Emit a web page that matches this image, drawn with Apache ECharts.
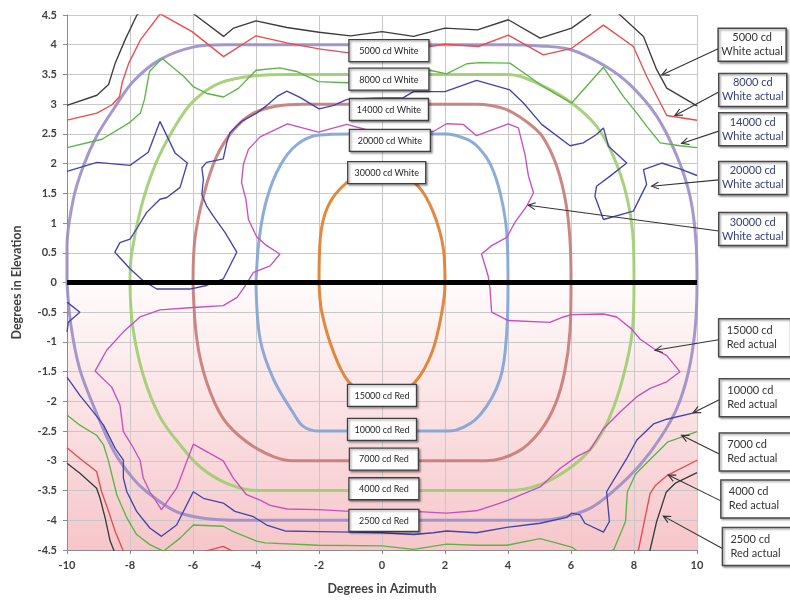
<!DOCTYPE html>
<html><head><meta charset="utf-8">
<script src="https://cdn.jsdelivr.net/npm/echarts@6/dist/echarts.min.js"></script>
<style>html,body{margin:0;padding:0;background:#fff}#c{width:790px;height:600px}</style>
</head><body><div id="c"></div>
<script>
// ---------- DATA ----------
const xMin = -10, xMax = 10, xStep = 2;
const yMin = -4.5, yMax = 4.5, yStep = 0.5;
const xTitle = 'Degrees in Azimuth';
const yTitle = 'Degrees in Elevation';

// specification contours (smooth)
const spec5000W_2500R = [[-10,0],[-10,0.6],[-9.8,1.4],[-9.48,1.96],[-9.06,2.46],[-8.53,2.91],[-7.9,3.38],[-7.05,3.75],[-6,3.96],[-5,4],[-4,4],[-2,4],[0,4],[2,4],[4,4],[5,3.98],[5.97,3.92],[7.03,3.66],[7.87,3.33],[8.72,2.8],[9.36,2.13],[9.78,1.45],[9.97,0.67],[10,0],[9.94,-0.78],[9.73,-1.5],[9.36,-2.12],[8.83,-2.62],[8.19,-3.07],[7.45,-3.46],[6.6,-3.8],[5.65,-3.96],[5,-4],[4,-4],[2,-4],[0,-4],[-2,-4],[-4,-4],[-4.5,-4],[-5.6,-3.97],[-6.55,-3.85],[-7.47,-3.52],[-7.9,-3.3],[-8.5,-2.85],[-9.1,-2.15],[-9.6,-1.45],[-9.88,-0.7],[-10,0]];
const spec8000W_4000R = [[-8,0],[-7.95,0.48],[-7.65,1.26],[-7.2,1.98],[-6.6,2.6],[-5.99,3.05],[-5.14,3.36],[-4,3.48],[-3,3.5],[-2,3.5],[0,3.5],[2,3.5],[4,3.5],[5.02,3.33],[6.02,3.02],[6.81,2.63],[7.34,2.13],[7.77,1.45],[7.98,0.67],[8,0],[7.95,-0.8],[7.65,-1.6],[7.2,-2.3],[6.7,-2.75],[6.02,-3.1],[5.02,-3.4],[4,-3.5],[2,-3.5],[0,-3.5],[-2,-3.5],[-4,-3.5],[-4.93,-3.38],[-5.78,-3.1],[-6.41,-2.73],[-7.05,-2.26],[-7.58,-1.56],[-7.92,-0.72],[-8,0]];
const spec14000W_7000R = [[-6,0],[-5.94,0.73],[-5.67,1.45],[-5.25,2.12],[-4.71,2.57],[-4.08,2.85],[-3.33,2.97],[-2.5,3],[-1,3],[0,3],[1,3],[2,3],[3,3],[3.9,2.92],[4.6,2.7],[5.1,2.45],[5.55,1.95],[5.85,1.3],[5.98,0.6],[6,0],[5.97,-0.8],[5.8,-1.5],[5.5,-2.05],[5.02,-2.5],[4.3,-2.85],[3.3,-3],[2,-3],[0,-3],[-2,-3],[-2.81,-3],[-3.45,-2.93],[-4.3,-2.68],[-5.04,-2.29],[-5.57,-1.67],[-5.88,-0.95],[-6,0]];
const spec20000W_10000R = [[-4,0],[-3.9,0.73],[-3.66,1.4],[-3.24,1.96],[-2.7,2.32],[-2,2.48],[-1,2.5],[0,2.5],[1,2.5],[2,2.5],[2.69,2.41],[3.1,2.25],[3.45,1.98],[3.75,1.51],[3.96,0.84],[4,0],[3.96,-0.83],[3.75,-1.62],[3.11,-2.23],[2.37,-2.48],[2,-2.5],[1,-2.5],[0,-2.5],[-1,-2.5],[-2,-2.5],[-2.5,-2.42],[-2.81,-2.2],[-3.45,-1.62],[-3.87,-0.95],[-4,0]];
const spec30000W_15000R = [[-2,0],[-1.96,0.74],[-1.71,1.29],[-1.12,1.68],[-0.5,1.83],[0,1.85],[0.5,1.83],[1.15,1.62],[1.63,1.18],[1.95,0.56],[2,0],[1.9,-0.5],[1.59,-1.17],[1.06,-1.67],[0.5,-1.83],[0,-1.85],[-0.5,-1.83],[-1.06,-1.67],[-1.54,-1.17],[-1.91,-0.5],[-2,0]];

// measured ("actual") contours
const act5000White = [[-10,2.98],[-9.05,3.15],[-8.68,3.33],[-8.47,3.69],[-8.15,4.09],[-7.78,4.5],[-7,4.9],[-5.93,4.5],[-5.03,4.14],[-4.71,4.28],[-4,4.4],[-3.02,4.29],[-2,4.21],[-1,4.15],[0,4.22],[1,4.14],[2,4.28],[3.03,4.25],[4.01,4.42],[5.02,4.11],[6.02,4.28],[6.6,4.5],[7,4.75],[7.56,4.5],[8.3,4.14],[8.72,3.58],[9.04,3.27],[10,2.97]];
const act8000White = [[-10,2.73],[-9.05,2.85],[-8.57,2.99],[-8.33,3.13],[-8.25,3.36],[-8.04,3.69],[-7.67,4.08],[-7.04,4.52],[-6.03,4.22],[-5.03,3.8],[-4,4.15],[-3.02,4.03],[-2,3.93],[-1,3.86],[0,3.9],[1,3.94],[1.52,3.97],[2,4.01],[3.06,3.97],[4.01,4.16],[5.12,3.83],[6.02,3.94],[7.03,4.33],[7.98,3.97],[8.4,3.47],[9.04,2.81],[10,2.73]];
const act14000White = [[-10,2.27],[-8.89,2.41],[-8.04,2.68],[-7.67,2.85],[-7.54,3.08],[-7.38,3.55],[-6.98,3.77],[-6.3,3.47],[-5.98,3.29],[-5.56,3.18],[-5.03,3.12],[-4.55,3.27],[-4,3.57],[-3.24,3.61],[-2.71,3.55],[-2.02,3.38],[-1.12,3.36],[0,3.42],[1,3.5],[1.52,3.57],[2.05,3.51],[2.69,3.68],[3.1,3.7],[4.06,3.69],[4.6,3.49],[5.02,3.33],[5.55,3.16],[6.02,3.02],[7.03,3.62],[7.34,3.38],[7.66,3.13],[8.09,2.85],[8.4,2.63],[8.83,2.35],[9.46,2.3],[10,2.27]];
const act20000White = [[-10,1.87],[-9.05,2.02],[-8,1.97],[-7.42,2.19],[-7.05,2.71],[-6.57,2.18],[-6.18,2.01],[-6.41,1.6],[-6.83,1.43],[-7.05,1.4],[-7.47,1.18],[-7.79,0.9],[-8,0.73],[-8.32,0.67],[-8.48,0.51],[-8,0.23],[-7.58,0.03],[-7.15,-0.11],[-6.1,-0.11],[-5.57,-0.05],[-5.04,0.06],[-4.61,0.51],[-4.98,0.84],[-5.36,1.12],[-5.57,1.29],[-5.72,1.48],[-5.67,1.73],[-5.72,1.93],[-5.57,2.02],[-5.04,2.08],[-4.93,2.35],[-4.83,2.52],[-4.46,2.71],[-3.98,2.85],[-3.65,2.98],[-3.33,3.13],[-3.02,3.22],[-2.59,3.11],[-2,2.92],[-1.53,2.98],[-1.11,3.08],[-0.3,3.1],[0.68,3.11],[1,3.21],[2,3.21],[3,3.4],[4.06,3.24],[4.49,3.02],[5.07,2.66],[5.97,2.3],[6.39,2.35],[6.81,2.49],[7.03,2.6],[7.19,2.29],[7.77,2.01],[7.24,1.79],[6.81,1.62],[6.76,1.45],[7.03,1.06],[7.98,1.2],[8.4,1.65],[8.3,1.9],[8.88,2.01],[9.46,1.91],[10,1.8]];
const act20000WhiteEdge = [[-10,-0.33],[-9.59,-0.5],[-9.96,-0.67],[-10,-0.83]];
// one closed loop: upper part = 30000 cd White actual, lower part = 15000 cd Red actual
const act30000W_15000R = [[-4.08,0.17],[-3.55,0.28],[-3.24,0.48],[-3.66,0.62],[-3.98,0.77],[-4.24,1.06],[-4.32,1.4],[-4.46,1.68],[-4.4,1.99],[-4.24,2.24],[-3.87,2.45],[-3,2.67],[-2.02,2.53],[-1.12,2.66],[-0.49,2.57],[0.5,2.55],[1,2.52],[1.63,2.54],[2.05,2.67],[2.58,2.66],[3,2.47],[4.01,2.67],[4.33,2.6],[4.54,2.15],[4.65,1.79],[4.81,1.51],[4.6,1.29],[4.22,1.01],[3.96,0.76],[3.48,0.62],[3.16,0.48],[3.37,0.11],[3.43,-0.11],[3.48,-0.5],[4.01,-0.64],[5.33,-0.67],[5.76,-0.58],[6.02,-0.54],[7.03,-0.53],[7.45,-0.58],[7.92,-0.78],[8.19,-0.95],[8.62,-1.11],[9.04,-1.23],[9.46,-1.5],[9.04,-1.67],[8.51,-1.78],[8.09,-1.92],[7.56,-2.18],[7.03,-2.46],[6.6,-2.82],[6.18,-2.93],[5.65,-3.13],[5.02,-3.44],[4.01,-3.66],[3.75,-3.71],[3,-3.84],[2.05,-3.88],[1,-3.85],[0,-3.86],[-1,-3.85],[-2.02,-3.82],[-3.02,-3.81],[-3.55,-3.75],[-3.87,-3.66],[-4.3,-3.57],[-4.72,-3.29],[-5.04,-3],[-5.99,-2.72],[-6.52,-3.46],[-7,-3.82],[-7.37,-3.52],[-7.58,-3.29],[-7.68,-2.99],[-7.95,-2.73],[-8.21,-2.51],[-8.32,-2.06],[-8.58,-1.76],[-9.11,-1.49],[-8.74,-1.14],[-8.21,-0.83],[-7.68,-0.58],[-7.05,-0.46],[-5.99,-0.42],[-5.04,-0.39],[-4.6,-0.25],[-4.35,-0.06],[-4.08,0.17]];
const act10000Red = [[-10,-1.59],[-9.59,-1.9],[-9.16,-2.18],[-8.84,-2.4],[-8.47,-2.79],[-8.21,-2.99],[-8.21,-3.29],[-8.1,-3.52],[-7.79,-3.85],[-7.37,-4.13],[-7,-4.27],[-6.52,-4.08],[-5.99,-3.52],[-5.67,-3.63],[-5.04,-3.71],[-4.67,-3.85],[-4.08,-3.94],[-3.66,-4.08],[-3.08,-4.18],[-2.02,-4.19],[-1,-4.2],[0,-4.21],[1,-4.24],[1.63,-4.21],[2.05,-4.18],[3,-4.21],[3.96,-4.12],[5.02,-4.05],[5.87,-3.95],[6.02,-3.88],[6.29,-3.91],[6.44,-4.05],[7.03,-4.2],[7.22,-4.02],[7.13,-3.52],[7.77,-2.96],[8.09,-2.65],[8.62,-2.38],[9.04,-2.3],[10,-2.18]];
const act7000Red = [[-10,-2.23],[-9.59,-2.4],[-9.06,-2.57],[-8.84,-2.73],[-8.68,-3.01],[-8.42,-3.57],[-8.1,-3.96],[-7.79,-4.24],[-7.37,-4.41],[-6.94,-4.52],[-6.41,-4.3],[-5.99,-4.08],[-5.04,-4.1],[-4.72,-4.19],[-3.98,-4.35],[-3.71,-4.38],[-2.02,-4.42],[0,-4.43],[1,-4.49],[2.05,-4.4],[3,-4.42],[3.96,-4.42],[5.02,-4.31],[6.02,-4.45],[6.7,-4.7],[7.36,-4.49],[7.73,-4.02],[7.79,-3.52],[8.05,-3.22],[8.6,-2.93],[9.08,-2.68],[10,-2.51]];
const act4000Red = [[-10,-2.78],[-9.59,-2.96],[-9.06,-3.18],[-8.9,-3.52],[-8.68,-3.85],[-8.47,-4.19],[-8.21,-4.52],[-7,-4.8],[-5.6,-4.52],[-5.04,-4.44],[-4.75,-4.52],[0,-4.8],[7.6,-4.8],[8.14,-4.5],[8.51,-3.55],[8.67,-3.42],[9.07,-3.24],[10,-2.99]];
const act2500Red = [[-10,-3.04],[-9.59,-3.21],[-9.06,-3.46],[-8.95,-3.63],[-8.79,-3.96],[-8.63,-4.35],[-8.5,-4.52],[-8,-4.9],[8,-4.9],[8.51,-4.5],[8.72,-4.02],[9.02,-3.53],[9.3,-3.38],[10,-3.2]];
const zeroLine = [[-10,0],[10,0]];

// ---------- LABELS ----------
const specLabels = ['5000 cd White','8000 cd White','14000 cd White','20000 cd White','30000 cd White','15000 cd Red','10000 cd Red','7000 cd Red','4000 cd Red','2500 cd Red'];
const actualLabels = [['5000 cd','White actual'],['8000 cd','White actual'],['14000 cd','White actual'],['20000 cd','White actual'],['30000 cd','White actual'],['15000 cd','Red actual'],['10000 cd','Red actual'],['7000 cd','Red actual'],['4000 cd','Red actual'],['2500 cd','Red actual']];

// ---------- LAYOUT (annotation placement, in axis units) ----------
const specLabelAt = [[0.22,3.9],[0.22,3.42],[0.22,2.91],[0.25,2.39],[0.15,1.85],[0,-1.9],[0,-2.47],[0.06,-2.97],[0.06,-3.47],[0.06,-4.0]];
const specLabelW = [80,80,79,81,78,69,69,69,70,70];
const actualBoxAt = [[11.75,4.0],[11.77,3.24],[11.77,2.58],[11.77,1.76],[11.77,0.9],[11.83,-0.93],[11.85,-1.94],[11.85,-2.85],[11.9,-3.64],[11.95,-4.44]];
const actualTip = [[8.88,3.49],[9.3,2.81],[9.51,2.34],[8.56,1.62],[4.64,1.3],[8.67,-1.14],[9.88,-2.19],[9.51,-2.57],[9.09,-3.24],[8.93,-3.93]];

const FONT = 'Lato, "Liberation Sans", sans-serif';

function specSeries(name, data, color) {
  return { name, type:'line', data, smooth:0.35, showSymbol:false, silent:true,
    lineStyle:{ color, width:3, opacity:0.9 }, z:2 };
}
function actSeries(name, data, color) {
  return { name, type:'line', data, smooth:false, showSymbol:false, silent:true,
    lineStyle:{ color, width:1.35 }, z:3 };
}

const chart = echarts.init(document.getElementById('c'), null, {renderer:'canvas'});
chart.setOption({
  animation:false,
  backgroundColor:'#fff',
  grid:{ left:67, right:93, top:15, bottom:48, show:true, borderWidth:0,
    backgroundColor:{ type:'linear', x:0, y:0, x2:0, y2:1,
      colorStops:[{offset:0,color:'#ffffff'},{offset:0.5,color:'#ffffff'},{offset:0.51,color:'#fffafa'},{offset:1,color:'#f6c6ca'}] } },
  xAxis:{ type:'value', min:xMin, max:xMax, interval:xStep,
    axisLine:{ onZero:false, lineStyle:{ color:'#8c8c8c', width:1 } },
    axisTick:{ show:true, length:4, lineStyle:{ color:'#8c8c8c' } },
    splitLine:{ show:true, lineStyle:{ color:'#c8c8c8', width:1 } },
    axisLabel:{ color:'#404040', fontSize:11, fontWeight:'bold', fontFamily:FONT, margin:10 },
    name:xTitle, nameLocation:'middle', nameGap:32,
    nameTextStyle:{ color:'#404040', fontSize:12.5, fontWeight:'bold', fontFamily:FONT } },
  yAxis:{ type:'value', min:yMin, max:yMax, interval:yStep,
    axisLine:{ show:true, onZero:false, lineStyle:{ color:'#8c8c8c', width:1 } },
    axisTick:{ show:true, length:4, lineStyle:{ color:'#8c8c8c' } },
    splitLine:{ show:true, lineStyle:{ color:'#c8c8c8', width:1 } },
    axisLabel:{ color:'#404040', fontSize:11, fontWeight:'bold', fontFamily:FONT, margin:10 },
    name:yTitle, nameLocation:'middle', nameGap:44,
    nameTextStyle:{ color:'#404040', fontSize:12.5, fontWeight:'bold', fontFamily:FONT } },
  series:[
    specSeries('5000 cd White / 2500 cd Red', spec5000W_2500R, '#9b8dc7'),
    specSeries('8000 cd White / 4000 cd Red', spec8000W_4000R, '#9fcd6e'),
    specSeries('14000 cd White / 7000 cd Red', spec14000W_7000R, '#c77a77'),
    specSeries('20000 cd White / 10000 cd Red', spec20000W_10000R, '#7fa3d5'),
    specSeries('30000 cd White / 15000 cd Red', spec30000W_15000R, '#e07b28'),
    actSeries('5000 cd White actual', act5000White, '#3c3c3c'),
    actSeries('8000 cd White actual', act8000White, '#e94b4b'),
    actSeries('14000 cd White actual', act14000White, '#5ab544'),
    actSeries('20000 cd White actual', act20000White, '#4444ab'),
    actSeries('20000 cd White actual edge', act20000WhiteEdge, '#4444ab'),
    actSeries('30000 cd White / 15000 cd Red actual', act30000W_15000R, '#c650be'),
    actSeries('10000 cd Red actual', act10000Red, '#4444ab'),
    actSeries('7000 cd Red actual', act7000Red, '#5ab544'),
    actSeries('4000 cd Red actual', act4000Red, '#e94b4b'),
    actSeries('2500 cd Red actual', act2500Red, '#3c3c3c'),
    { name:'0', type:'line', data:zeroLine, showSymbol:false, silent:true,
      lineStyle:{ color:'#000', width:5 }, z:4 }
  ]
});

// ---------- annotations ----------
const px = p => chart.convertToPixel({xAxisIndex:0, yAxisIndex:0}, p);
const els = [];
const shadow = { shadowBlur:2, shadowOffsetX:1.5, shadowOffsetY:1.5, shadowColor:'rgba(0,0,0,0.35)' };
specLabels.forEach((t,i) => {
  const c = px(specLabelAt[i]); const w = specLabelW[i], h = 22;
  els.push({ type:'rect', z:100, shape:{ x:c[0]-w/2, y:c[1]-h/2, width:w, height:h },
    style:Object.assign({ fill:'#fff', stroke:'#404040', lineWidth:1.3 }, shadow) });
  els.push({ type:'text', z:101, x:c[0], y:c[1]+0.5,
    style:{ text:t, fill:'#262626', fontSize:9, fontFamily:FONT, align:'center', verticalAlign:'middle' } });
});
actualLabels.forEach((t,i) => {
  const c = px(actualBoxAt[i]);
  const isRed = i >= 5;
  const w = isRed ? 72 : 68, h = isRed ? 38 : 33;
  const left = c[0]-w/2;
  els.push({ type:'rect', z:100, shape:{ x:left, y:c[1]-h/2, width:w, height:h },
    style:Object.assign({ fill:'#fff', stroke:'#4a4a4a', lineWidth:1.5 }, shadow) });
  const col = (i === 0 || isRed) ? '#333333' : '#33407a';
  els.push({ type:'text', z:101, x: isRed ? left+8 : c[0], y:c[1]-7,
    style:{ text:t[0], fill:col, fontSize:11, fontFamily:FONT, align: isRed ? 'left' : 'center', verticalAlign:'middle' } });
  els.push({ type:'text', z:101, x: isRed ? left+8 : c[0], y:c[1]+7,
    style:{ text:t[1], fill:col, fontSize:11, fontFamily:FONT, align: isRed ? 'left' : 'center', verticalAlign:'middle' } });
  // arrow
  const s = [left, c[1] + (i===0 ? 4 : 2)];
  const tip = px(actualTip[i]);
  const ang = Math.atan2(s[1]-tip[1], s[0]-tip[0]);
  const L = 8, a = 0.45;
  els.push({ type:'line', z:99, shape:{ x1:s[0], y1:s[1], x2:tip[0], y2:tip[1] }, style:{ stroke:'#333', lineWidth:1.1 } });
  els.push({ type:'polyline', z:99, shape:{ points:[
      [tip[0]+L*Math.cos(ang+a), tip[1]+L*Math.sin(ang+a)], tip,
      [tip[0]+L*Math.cos(ang-a), tip[1]+L*Math.sin(ang-a)] ] },
    style:{ stroke:'#333', lineWidth:1.1, fill:null } });
});
chart.setOption({ graphic: els });
</script></body></html>
